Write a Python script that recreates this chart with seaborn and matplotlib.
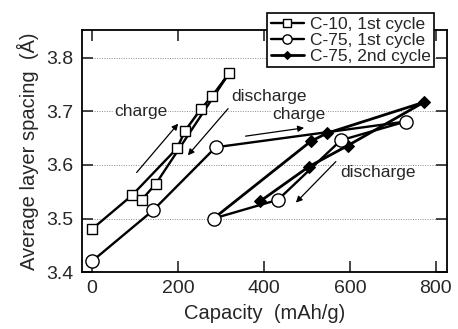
import matplotlib
matplotlib.use("Agg")
import matplotlib.pyplot as plt
import seaborn as sns
import pandas as pd

# C-10, 1st cycle (charge then discharge, in drawing order)
c10_cap = [0, 93, 198, 216, 253, 279, 319, 279, 253, 216, 198, 149, 116]
c10_d = [3.48, 3.543, 3.631, 3.663, 3.704, 3.728, 3.771, 3.728, 3.704, 3.663, 3.631, 3.565, 3.535]

# C-75, 1st cycle
c75a_cap = [0, 142, 288, 730, 579, 433, 283]
c75a_d = [3.42, 3.515, 3.633, 3.681, 3.646, 3.535, 3.50]

# C-75, 2nd cycle (starts at the end of the 1st cycle)
c75b_cap = [283, 509, 546, 772, 595, 505, 391, 283]
c75b_d = [3.50, 3.644, 3.659, 3.717, 3.636, 3.597, 3.532, 3.50]

x_ticks = [0, 200, 400, 600, 800]
y_ticks = [3.4, 3.5, 3.6, 3.7, 3.8]

sns.set_style("ticks")
plt.rcParams["font.family"] = ["Liberation Sans", "DejaVu Sans"]

fig = plt.figure(figsize=(4.58, 3.29), dpi=100)
ax = fig.add_axes([0.179, 0.173, 0.797, 0.736])

for yv in y_ticks[1:]:
    ax.axhline(yv, color="0.55", lw=0.7, ls=(0, (1, 1.5)), zorder=0)

df1 = pd.DataFrame({"cap": c10_cap, "d": c10_d})
df2 = pd.DataFrame({"cap": c75a_cap, "d": c75a_d})
df3 = pd.DataFrame({"cap": c75b_cap, "d": c75b_d})

sns.lineplot(data=df3, x="cap", y="d", sort=False, ax=ax, color="black", lw=2,
             marker="D", markersize=6.5, markerfacecolor="black",
             markeredgecolor="black", markevery=list(range(1, len(c75b_cap) - 1)),
             label="C-75, 2nd cycle", zorder=3)
sns.lineplot(data=df2, x="cap", y="d", sort=False, ax=ax, color="black", lw=1.7,
             marker="o", markersize=9.5, markerfacecolor="white",
             markeredgecolor="black", markeredgewidth=1.0,
             label="C-75, 1st cycle", zorder=4)
sns.lineplot(data=df1, x="cap", y="d", sort=False, ax=ax, color="black", lw=1.7,
             marker="s", markersize=7.5, markerfacecolor="white",
             markeredgecolor="black", markeredgewidth=1.0,
             label="C-10, 1st cycle", zorder=4)

ax.set_xlim(-23, 826)
ax.set_ylim(3.4, 3.852)
ax.set_xticks(x_ticks)
ax.set_yticks(y_ticks)
ax.tick_params(direction="in", length=8, width=1.2, labelsize=14,
               top=True, right=True, pad=6)
for s in ax.spines.values():
    s.set_linewidth(1.3)
    s.set_color("black")

ax.set_xlabel("Capacity  (mAh/g)", fontsize=14.5, labelpad=5)
ax.set_ylabel("Average layer spacing  (Å)", fontsize=14.5, labelpad=5)

# annotations
akw = dict(arrowstyle="-|>", color="black", lw=0.9, mutation_scale=9)
ax.text(114, 3.70, "charge", fontsize=12.5, ha="center", va="center",
        bbox=dict(fc="white", ec="none", pad=0.5))
ax.annotate("", xy=(205, 3.681), xytext=(100, 3.582), arrowprops=akw)
ax.text(412, 3.728, "discharge", fontsize=12.5, ha="center", va="center")
ax.annotate("", xy=(219, 3.614), xytext=(321, 3.709), arrowprops=akw)
ax.text(481, 3.694, "charge", fontsize=12.5, ha="center", va="center",
        bbox=dict(fc="white", ec="none", pad=0.5))
ax.annotate("", xy=(500, 3.670), xytext=(351, 3.653), arrowprops=akw)
ax.text(666, 3.586, "discharge", fontsize=12.5, ha="center", va="center")
ax.annotate("", xy=(470, 3.526), xytext=(572, 3.610), arrowprops=akw)

h, l = ax.get_legend_handles_labels()
order = [2, 1, 0]
leg = ax.legend([h[i] for i in order], [l[i] for i in order],
                loc="upper right", bbox_to_anchor=(0.965, 1.07),
                fontsize=12.5, frameon=True, fancybox=False,
                framealpha=1, edgecolor="black", borderpad=0.2,
                labelspacing=0.05, handlelength=1.9, handletextpad=0.35,
                borderaxespad=0, markerscale=0.7)
leg.get_frame().set_linewidth(1.2)
leg.set_zorder(10)

fig.savefig("out.png", dpi=100)
